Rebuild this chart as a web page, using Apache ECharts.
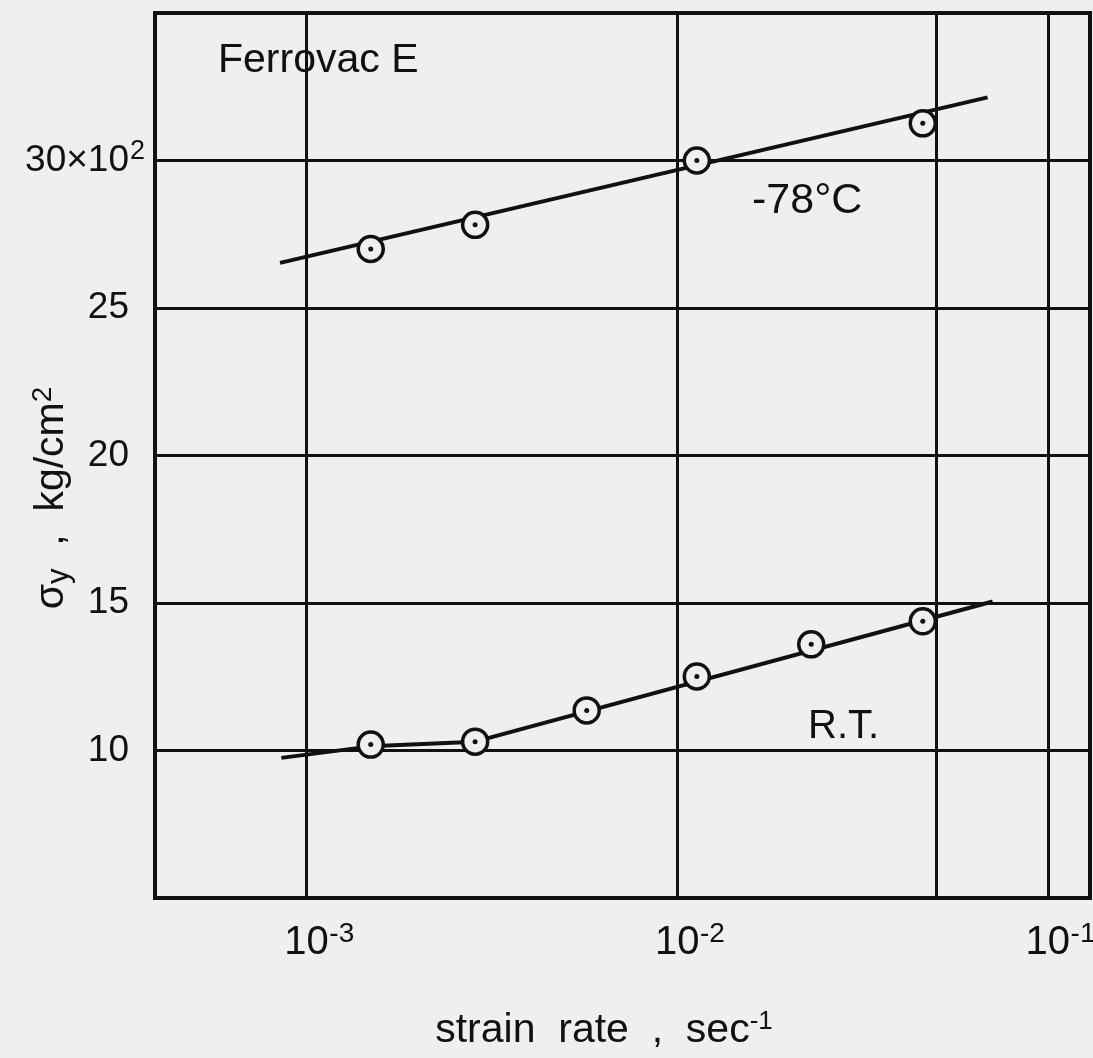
<!DOCTYPE html>
<html><head><meta charset="utf-8">
<script src="https://cdn.jsdelivr.net/npm/echarts@6/dist/echarts.min.js"></script>
<style>html,body{margin:0;padding:0;background:#efefef;}#c{width:1093px;height:1058px;}</style>
</head><body><div id="c"></div>
<script>
// ---- data ----
const strainRateRT = [1.49e-3, 2.85e-3, 5.7e-3, 1.13e-2, 2.3e-2, 4.6e-2];
const sigmaRT      = [10.2, 10.3, 11.36, 12.51, 13.6, 14.38];
const strainRate78 = [1.49e-3, 2.85e-3, 1.13e-2, 4.6e-2];
const sigma78      = [27.0, 27.82, 30.0, 31.26];
const fitRate78  = [8.48e-4, 6.88e-2];
const fitSigma78 = [26.53, 32.14];
const fitRateRT  = [8.55e-4, 1.49e-3, 2.85e-3, 7.1e-2];
const fitSigmaRT = [9.75, 10.14, 10.3, 15.05];
const extraGridX = [5e-3, 5e-2];
const xTickExps  = [-3, -2, -1];
const yTicks     = [10, 15, 20, 25, 30];
const yTickText  = ['10', '15', '20', '25', '30×10'];
const yTickSup   = ['', '', '', '', '2'];

const zip = (a, b) => a.map((v, i) => [v, b[i]]);
const FONT = 'Liberation Sans, Arial, sans-serif';
const INK = '#111';

const chart = echarts.init(document.getElementById('c'), null, {renderer: 'canvas'});
const markerStyle = {color: '#efefef', borderColor: INK, borderWidth: 3.5, opacity: 1};

chart.setOption({
  backgroundColor: '#efefef',
  animation: false,
  grid: {left: 155, top: 13, right: 3, bottom: 160, containLabel: false, outerBoundsMode: 'none',
         show: true, borderColor: INK, borderWidth: 4, backgroundColor: 'transparent'},
  xAxis: {
    type: 'log', logBase: 10, min: 3.9e-4, max: 0.13,
    axisLine: {show: true, lineStyle: {color: INK, width: 4}},
    axisTick: {show: false},
    splitLine: {show: true, lineStyle: {color: INK, width: 3}},
    axisLabel: {
      margin: 22,
      showMinLabel: false, showMaxLabel: false,
      formatter: function (v) {
        const l = Math.log10(v), r = Math.round(l);
        if (Math.abs(l - r) > 1e-6 || xTickExps.indexOf(r) < 0) return '';
        return '{p|}{b|10}{s|' + r + '}';
      },
      rich: {
        p: {width: 26},
        b: {fontFamily: FONT, fontSize: 40, color: INK},
        s: {fontFamily: FONT, fontSize: 28, color: INK, width: 26, padding: [0, 0, 18, 0]}
      }
    }
  },
  yAxis: {
    type: 'value', min: 5, max: 35, interval: 5,
    axisLine: {show: true, lineStyle: {color: INK, width: 4}},
    axisTick: {show: false},
    splitLine: {show: true, lineStyle: {color: INK, width: 3}},
    axisLabel: {
      margin: 10,
      formatter: function (v) {
        const i = yTicks.indexOf(v);
        if (i < 0) return '';
        return '{n|' + yTickText[i] + '}{s|' + yTickSup[i] + '}';
      },
      rich: {
        n: {fontFamily: FONT, fontSize: 37, color: INK},
        s: {fontFamily: FONT, fontSize: 27, color: INK, width: 16, padding: [0, 0, 18, 0]}
      }
    }
  },
  series: [
    {type: 'line', data: [], z: 1, silent: true,
     markLine: {silent: true, symbol: 'none', label: {show: false},
       lineStyle: {color: INK, width: 3, type: 'solid', opacity: 1},
       data: extraGridX.map(v => ({xAxis: v}))}},
    {type: 'line', data: zip(fitRate78, fitSigma78), showSymbol: false, z: 3,
     lineStyle: {color: INK, width: 4}},
    {type: 'line', data: zip(fitRateRT, fitSigmaRT), showSymbol: false, z: 3,
     lineStyle: {color: INK, width: 4}},
    {type: 'scatter', data: zip(strainRate78, sigma78), symbol: 'circle', symbolSize: 25, z: 5, itemStyle: markerStyle},
    {type: 'scatter', data: zip(strainRateRT, sigmaRT), symbol: 'circle', symbolSize: 25, z: 5, itemStyle: markerStyle},
    {type: 'scatter', data: zip(strainRate78, sigma78), symbol: 'circle', symbolSize: 5, z: 6, itemStyle: {color: INK, opacity: 1}},
    {type: 'scatter', data: zip(strainRateRT, sigmaRT), symbol: 'circle', symbolSize: 5, z: 6, itemStyle: {color: INK, opacity: 1}}
  ],
  graphic: [
    {type: 'text', x: 218, y: 61, z: 10,
     style: {text: 'Ferrovac E', font: '41px ' + FONT, fill: INK, textAlign: 'left', textVerticalAlign: 'middle', align: 'left', verticalAlign: 'middle'}},
    {type: 'text', x: 752, y: 201, z: 10,
     style: {text: '-78°C', font: '43px ' + FONT, fill: INK, textAlign: 'left', textVerticalAlign: 'middle', align: 'left', verticalAlign: 'middle'}},
    {type: 'text', x: 808, y: 727, z: 10,
     style: {text: 'R.T.', font: '40px ' + FONT, fill: INK, textAlign: 'left', textVerticalAlign: 'middle', align: 'left', verticalAlign: 'middle'}},
    {type: 'text', x: 604, y: 1031, z: 10,
     style: {text: '{m|strain  rate  ,  sec}{s|-1}', textAlign: 'center', textVerticalAlign: 'middle', align: 'center', verticalAlign: 'middle',
       rich: {m: {fontFamily: FONT, fontSize: 41, fill: INK, color: INK},
              s: {fontFamily: FONT, fontSize: 26, fill: INK, color: INK, padding: [0, 0, 18, 0]}}}},
    {type: 'text', x: 52, y: 498, rotation: Math.PI / 2, z: 10,
     style: {text: '{m|σ}{d|y}{m|  ,  kg/cm}{s|2}', textAlign: 'center', textVerticalAlign: 'middle', align: 'center', verticalAlign: 'middle',
       rich: {m: {fontFamily: FONT, fontSize: 41, fill: INK, color: INK},
              d: {fontFamily: FONT, fontSize: 31, fill: INK, color: INK, padding: [14, 0, 0, 0]},
              s: {fontFamily: FONT, fontSize: 28, fill: INK, color: INK, padding: [0, 0, 18, 0]}}}}
  ]
});
</script>
</body></html>
